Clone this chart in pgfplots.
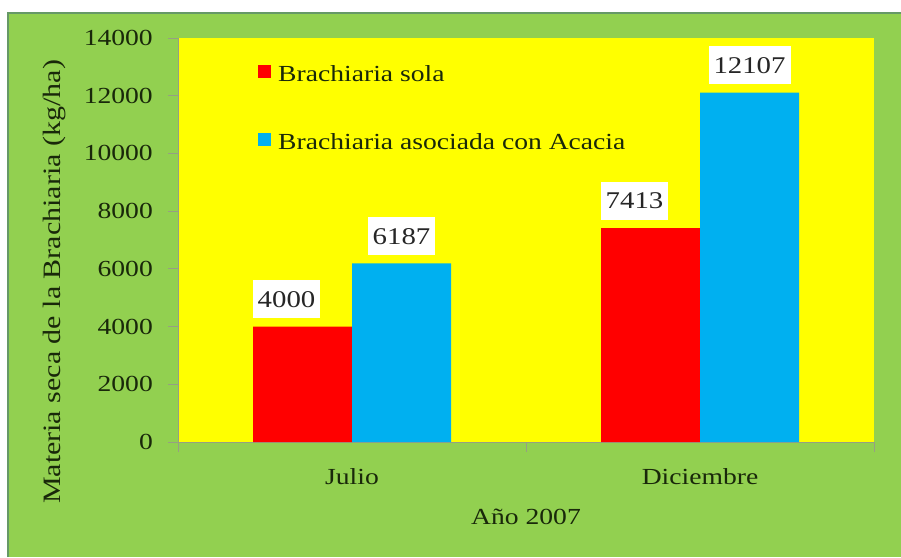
\documentclass[border=0pt]{standalone}
\usepackage{fontspec}
\setmainfont{Liberation Serif}[FakeStretch=1.2]
\usepackage{pgfplots}
\pgfplotsset{compat=1.18}
\definecolor{bggreen}{RGB}{146,208,80}
\definecolor{byellow}{RGB}{255,255,0}
\definecolor{bred}{RGB}{255,0,0}
\definecolor{bblue}{RGB}{0,176,240}
\definecolor{txt}{RGB}{25,40,10}
\definecolor{axgray}{RGB}{150,160,130}
\begin{document}
\begin{tikzpicture}
\useasboundingbox (0,0) rectangle (901pt,557pt);
\fill[white] (0,0) rectangle (901pt,557pt);
\fill[bggreen] (7pt,0) rectangle (901pt,545pt);
\draw[gray!80!green, line width=2pt] (8pt,0) -- (8pt,544pt) -- (901pt,544pt);
\begin{axis}[
  at={(178pt,115pt)}, anchor=south west,
  scale only axis, width=696pt, height=404pt,
  xmin=-0.5, xmax=1.5, ymin=0, ymax=14000,
  axis background/.style={fill=byellow},
  axis lines*=left,
  axis line style={draw=axgray, line width=0.8pt},
  tick align=outside, major tick length=10pt,
  tick style={draw=axgray, line width=0.8pt},
  ytick={0,2000,...,14000},
  scaled y ticks=false,
  /pgf/number format/1000 sep={},
  /pgf/number format/assume math mode=true,
  xtick={-0.5,0.5,1.5},
  x tick label as interval,
  xticklabels={Julio,Diciembre},
  every tick label/.append style={font=\fontsize{23}{23}\selectfont, text=txt},
  yticklabel style={anchor=east, inner sep=0pt, xshift=-15pt},
  xticklabel style={anchor=base, yshift=-32pt},
  xlabel={Año 2007},
  ylabel={Materia seca de la Brachiaria (kg/ha)},
  xlabel style={at={(axis description cs:0.5,-0.186)}, anchor=center, font=\fontsize{23}{23}\selectfont, text=txt},
  ylabel style={at={(axis description cs:-0.177,0.396)}, anchor=center, font=\fontsize{25}{25}\selectfont, text=txt},
  ybar, bar width=99pt,
  nodes near coords,
  every node near coord/.append style={fill=white, inner xsep=5pt, minimum height=38pt, anchor=south, yshift=8pt, font=\fontsize{24}{24}\selectfont, text=black!85},
  legend image code/.code={\fill[#1] (0pt,-4pt) rectangle (13pt,9pt);},
  legend style={at={(axis description cs:0.115,0.938)}, anchor=north west, draw=none, fill=none, font=\fontsize{23}{23}\selectfont, text=txt, row sep=47pt, inner sep=0pt, /tikz/every odd column/.append style={column sep=5pt}},
  legend cell align=left,
]
\addplot[fill=bred, draw=none, bar shift=-49.5pt, every node near coord/.append style={xshift=-16pt}] coordinates {(0,4000) (1,7413)};
\addplot[fill=bblue, draw=none, bar shift=49.5pt] coordinates {(0,6187) (1,12107)};
\legend{Brachiaria sola, Brachiaria asociada con Acacia}
\end{axis}
\end{tikzpicture}
\end{document}
